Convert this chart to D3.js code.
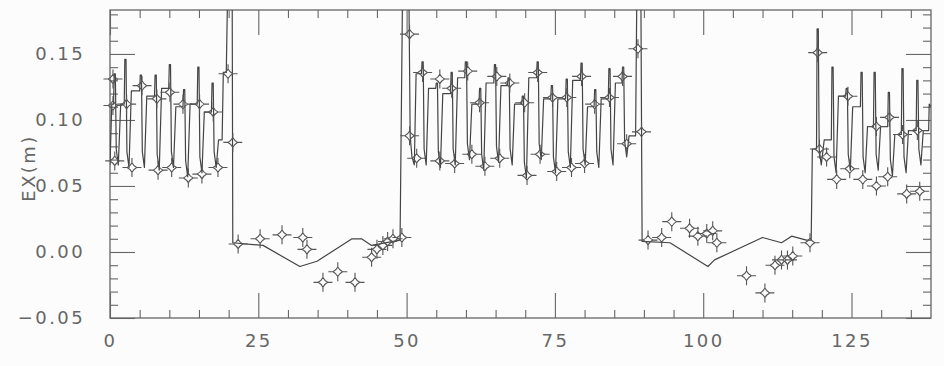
<!DOCTYPE html>
<html>
<head>
<meta charset="utf-8">
<script src="https://cdn.jsdelivr.net/npm/d3@7"></script>
<style>
  body { margin: 0; background: #fcfcfc; }
  svg { display: block; }
  text { font-family: "DejaVu Sans", sans-serif; fill: #666; letter-spacing: 2.4px; }
</style>
</head>
<body>
<svg></svg>
<script>
// dispersion line (s, Ex)
var arc1 = [[0,0.066],[0.3,0.112],[0.6,0.112],[0.7,0.135],[0.9,0.135],[1.05,0.078],[1.4,0.066],[1.8,0.112],[2.4,0.112],[2.5,0.146],[2.7,0.146],[2.85,0.076],[3.2,0.064],
  [3.6,0.122],[5.0,0.122],[5.1,0.134],[5.3,0.134],[5.45,0.076],[5.8,0.064],[6.2,0.118],[7.5,0.118],[7.6,0.134],[7.8,0.134],[7.95,0.074],[8.3,0.062],
  [8.7,0.124],[9.9,0.124],[10.0,0.142],[10.2,0.142],[10.35,0.076],[10.7,0.064],[11.1,0.110],[12.3,0.110],[12.4,0.123],[12.6,0.123],[12.75,0.069],[13.1,0.057],
  [13.5,0.112],[14.7,0.112],[14.8,0.140],[15.0,0.140],[15.15,0.072],[15.5,0.060],[15.9,0.106],[17.1,0.106],[17.2,0.128],[17.4,0.128],[17.55,0.076],[17.9,0.064],
  [18.3,0.085],[18.9,0.085],[19.1,0.136],[19.6,0.136],[19.8,0.19],[20.6,0.19],[20.7,0.007]];

var straight1 = [[20.7,0.007],[25.8,0.005],[32.0,-0.011],[34.9,-0.007],[40.8,0.010],[42.4,0.010],[44.1,0.005],[48.9,0.009],
  [49.3,0.19],[50.4,0.19],[50.6,0.088]];

var arc2 = [[50.6,0.088],[50.9,0.072],[51.3,0.066],[51.6,0.135],[52.5,0.135],[52.6,0.144],[52.8,0.144],[52.95,0.078],[53.3,0.066],
  [53.7,0.124],[54.9,0.124],[55.0,0.128],[55.2,0.128],[55.35,0.076],[55.7,0.064],[56.1,0.120],[57.4,0.120],[57.5,0.136],[57.7,0.136],[57.85,0.078],[58.2,0.066],
  [58.6,0.132],[59.8,0.132],[59.9,0.144],[60.1,0.144],[60.25,0.082],[60.6,0.070],[61.0,0.112],[62.2,0.112],[62.3,0.124],[62.5,0.124],[62.65,0.074],[63.0,0.062],
  [63.4,0.128],[64.7,0.128],[64.8,0.142],[65.0,0.142],[65.15,0.080],[65.5,0.068],[65.9,0.126],[67.0,0.126],[67.1,0.132],[67.3,0.132],[67.45,0.078],[67.8,0.066],
  [68.2,0.112],[69.4,0.112],[69.5,0.118],[69.7,0.118],[69.85,0.068],[70.2,0.056],[70.6,0.132],[71.9,0.132],[72.0,0.144],[72.2,0.144],[72.35,0.082],[72.7,0.070],
  [73.1,0.116],[74.3,0.116],[74.4,0.126],[74.6,0.126],[74.75,0.072],[75.1,0.060],[75.5,0.116],[76.8,0.116],[76.9,0.131],[77.1,0.131],[77.25,0.076],[77.6,0.064],
  [78.0,0.130],[79.3,0.130],[79.4,0.143],[79.6,0.143],[79.75,0.078],[80.1,0.066],[80.5,0.110],[81.6,0.110],[81.7,0.123],[81.9,0.123],[82.05,0.076],[82.4,0.064],
  [82.8,0.116],[84.0,0.116],[84.1,0.139],[84.3,0.139],[84.45,0.078],[84.8,0.066],[85.2,0.128],[86.3,0.128],[86.4,0.140],[86.6,0.140],[86.75,0.084],[87.1,0.072],
  [87.5,0.088],[88.6,0.088],[88.8,0.19],[89.5,0.19],[89.7,0.008]];

var straight2 = [[89.7,0.008],[94.4,0.007],[100.8,-0.011],[101.9,-0.006],[110.0,0.011],[113.2,0.007],[114.9,0.012],[117.4,0.009],
  [118.2,0.009],[118.4,0.078]];

var arc3 = [[118.4,0.078],[119.1,0.078],[119.2,0.169],[119.4,0.169],[119.55,0.078],[119.9,0.066],[120.4,0.085],[121.6,0.085],[121.7,0.140],[121.9,0.140],
  [122.05,0.072],[122.4,0.060],[122.8,0.118],[124.0,0.118],[124.1,0.124],[124.3,0.124],[124.45,0.074],[124.8,0.062],[125.2,0.110],[126.5,0.110],
  [126.6,0.136],[126.8,0.136],[126.95,0.072],[127.3,0.060],[127.7,0.095],[128.7,0.095],[128.8,0.136],[129.0,0.136],[129.15,0.074],[129.5,0.062],[129.9,0.095],
  [131.1,0.095],[131.2,0.121],[131.4,0.121],[131.55,0.070],[131.9,0.058],[132.3,0.089],[133.4,0.089],[133.5,0.139],[133.7,0.139],[133.85,0.072],[134.2,0.060],
  [134.6,0.092],[135.9,0.092],[136.0,0.130],[136.2,0.130],[136.35,0.078],[136.7,0.066],[137.1,0.092],[138.0,0.092],[138.1,0.112],[138.4,0.110]];

// measured points (stars)
var measArc1 = [[0.5,0.131],[0.5,0.111],[0.8,0.069],[2.8,0.112],[3.7,0.064],[5.4,0.126],[7.9,0.116],[8.1,0.062],[10.1,0.121],
  [10.4,0.064],[12.3,0.112],[13.2,0.056],[15.1,0.112],[15.5,0.059],[17.4,0.106],[18.2,0.064],[19.9,0.135],[20.7,0.083]];
var measStraight1 = [[21.6,0.006],[25.3,0.010],[29.0,0.013],[32.5,0.011],[33.2,0.002],[35.9,-0.023],[38.4,-0.015],[41.3,-0.023],
  [44.1,-0.004],[45.0,0.002],[46.0,0.005],[46.8,0.008],[47.7,0.010],[49.2,0.011]];
var measArc2 = [[50.5,0.165],[50.5,0.088],[51.7,0.071],[52.7,0.136],[55.6,0.131],[55.6,0.069],[57.6,0.124],[58.1,0.067],
  [60.3,0.137],[61.0,0.074],[62.3,0.113],[63.2,0.065],[65.2,0.133],[65.7,0.071],[67.4,0.128],[69.9,0.113],[70.3,0.058],
  [72.1,0.136],[72.5,0.074],[74.6,0.117],[75.3,0.061],[77.0,0.117],[77.8,0.064],[79.5,0.133],[80.0,0.067],[81.7,0.112],
  [84.2,0.117],[86.4,0.133],[87.1,0.082],[89.0,0.154],[89.6,0.091]];
var measStraight2 = [[90.7,0.009],[93.0,0.011],[94.7,0.023],[97.7,0.018],[99.1,0.012],[100.6,0.014],[101.6,0.016],[102.3,0.007],
  [107.3,-0.018],[110.4,-0.031],[112.1,-0.010],[113.2,-0.006],[114.2,-0.006],[115.1,-0.003],[118.0,0.007]];
var measArc3 = [[119.3,0.151],[119.6,0.078],[120.8,0.072],[122.5,0.055],[124.4,0.118],[124.7,0.063],[126.9,0.055],[129.2,0.095],
  [129.2,0.050],[131.1,0.057],[131.4,0.102],[133.6,0.089],[134.3,0.044],[136.1,0.092],[136.5,0.046]];

var xMajor = [0, 25, 50, 75, 100, 125];
var xMinor = [5, 10, 15, 20, 30, 35, 40, 45, 55, 60, 65, 70, 80, 85, 90, 95, 105, 110, 115, 120, 130, 135];
var yMajor = [-0.05, 0.00, 0.05, 0.10, 0.15];
var yMinor = [-0.04, -0.03, -0.02, -0.01, 0.01, 0.02, 0.03, 0.04, 0.06, 0.07, 0.08, 0.09, 0.11, 0.12, 0.13, 0.14, 0.16, 0.17, 0.18];

var width = 944, height = 366;
var plotL = 110, plotR = 931, plotT = 10, plotB = 318;

var svg = d3.select("svg").attr("width", width).attr("height", height);

var xScale = d3.scaleLinear().domain([0, 138.4]).range([plotL, plotR]);
var yScale = d3.scaleLinear().domain([-0.05, 0.1833]).range([plotB, plotT]);

svg.append("clipPath").attr("id", "plot")
   .append("rect")
   .attr("x", plotL).attr("y", plotT)
   .attr("width", plotR - plotL).attr("height", plotB - plotT);

// ticks, all pointing inwards
function tickStyle(g) {
  g.select(".domain").remove();
  g.selectAll(".tick line").attr("stroke", "#666").attr("stroke-width", 1.1);
  g.selectAll(".tick text").style("font-size", "18px").attr("fill", "#666");
}

svg.append("g").attr("transform", "translate(" + plotL + ",0)")
   .call(d3.axisLeft(yScale).tickValues(yMajor).tickSize(-25).tickPadding(25).tickFormat(d3.format(".2f")))
   .call(tickStyle);
svg.append("g").attr("transform", "translate(" + plotL + ",0)")
   .call(d3.axisLeft(yScale).tickValues(yMinor).tickSize(-8).tickFormat(""))
   .call(tickStyle);
svg.append("g").attr("transform", "translate(" + plotR + ",0)")
   .call(d3.axisRight(yScale).tickValues(yMajor).tickSize(-25).tickFormat(""))
   .call(tickStyle);
svg.append("g").attr("transform", "translate(" + plotR + ",0)")
   .call(d3.axisRight(yScale).tickValues(yMinor).tickSize(-8).tickFormat(""))
   .call(tickStyle);

svg.append("g").attr("transform", "translate(0," + plotB + ")")
   .call(d3.axisBottom(xScale).tickValues(xMajor).tickSize(-25).tickPadding(16).tickFormat(d3.format("d")))
   .call(tickStyle);
svg.append("g").attr("transform", "translate(0," + plotB + ")")
   .call(d3.axisBottom(xScale).tickValues(xMinor).tickSize(-8).tickFormat(""))
   .call(tickStyle);
svg.append("g").attr("transform", "translate(0," + plotT + ")")
   .call(d3.axisTop(xScale).tickValues(xMajor).tickSize(-25).tickFormat(""))
   .call(tickStyle);
svg.append("g").attr("transform", "translate(0," + plotT + ")")
   .call(d3.axisTop(xScale).tickValues(xMinor).tickSize(-8).tickFormat(""))
   .call(tickStyle);

// frame
svg.append("rect")
   .attr("x", plotL).attr("y", plotT)
   .attr("width", plotR - plotL).attr("height", plotB - plotT)
   .attr("fill", "none").attr("stroke", "#666").attr("stroke-width", 1.3);

// the model curve
var lineData = arc1.concat(straight1.slice(1), arc2.slice(1), straight2.slice(1), arc3.slice(1));
var line = d3.line().x(d => xScale(d[0])).y(d => yScale(d[1]));

svg.append("path")
   .datum(lineData)
   .attr("clip-path", "url(#plot)")
   .attr("d", line)
   .attr("fill", "none")
   .attr("stroke", "#444")
   .attr("stroke-width", 1.2)
   .attr("stroke-linejoin", "round");

// four-pointed star markers
var star = "M0,-9.5L0,-4.8Q1.6,-1.6 4.8,0L9.5,0M4.8,0Q1.6,1.6 0,4.8L0,9.5M0,4.8Q-1.6,1.6 -4.8,0L-9.5,0M-4.8,0Q-1.6,-1.6 0,-4.8";
var meas = measArc1.concat(measStraight1, measArc2, measStraight2, measArc3);

svg.selectAll(".meas").data(meas).enter()
   .append("path")
   .attr("class", "meas")
   .attr("transform", d => "translate(" + xScale(d[0]) + "," + yScale(d[1]) + ")")
   .attr("d", star)
   .attr("fill", "none")
   .attr("stroke", "#555")
   .attr("stroke-width", 1.1);

// y axis title
svg.append("text")
   .attr("transform", "translate(35,168) rotate(-90)")
   .style("text-anchor", "middle")
   .style("font-size", "18px")
   .text("EX(m)");
</script>
</body>
</html>
